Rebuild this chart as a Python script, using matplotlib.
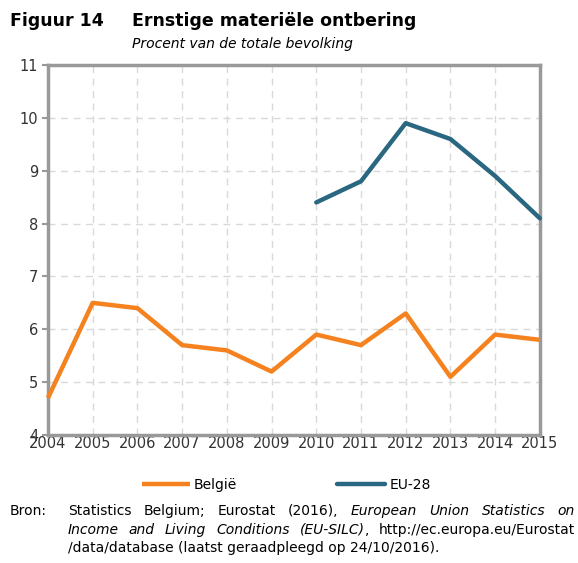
import matplotlib.pyplot as plt
import numpy as np

years = np.arange(2004, 2016)
belgie = [4.7, 6.5, 6.4, 5.7, 5.6, 5.2, 5.9, 5.7, 6.3, 5.1, 5.9, 5.8]
eu_years = np.arange(2010, 2016)
eu28 = [8.4, 8.8, 9.9, 9.6, 8.9, 8.1]

orange = "#F5821F"
blue = "#2A6780"
grey = "#999999"

plt.rcParams["font.family"] = "DejaVu Sans"

fig = plt.figure(figsize=(5.78, 5.63), dpi=100)
ax = fig.add_axes([0.083, 0.2274, 0.851, 0.6571])

ax.plot(years, belgie, color=orange, lw=3.2, solid_capstyle="butt", label="België", clip_on=False, zorder=3)
ax.plot(eu_years, eu28, color=blue, lw=3.2, solid_capstyle="round", label="EU-28", clip_on=False, zorder=3)

ax.set_xlim(2004, 2015)
ax.set_ylim(4, 11)
ax.set_xticks(years)
ax.set_yticks(np.arange(4, 12))
ax.grid(True, color="#d9d9d9", ls=(0, (5, 4)), lw=1)
for s in ax.spines.values():
    s.set_color(grey)
    s.set_linewidth(2.5)
ax.tick_params(axis="y", length=4, width=1.5, color=grey, labelsize=10.5, labelcolor="#333333", pad=3)
ax.tick_params(axis="x", length=0, labelsize=10.5, labelcolor="#333333", pad=1)

# titles
fig.text(0.017, 0.962, "Figuur 14", fontsize=12.5, fontweight="bold", va="center")
fig.text(0.228, 0.962, "Ernstige materiële ontbering", fontsize=12.5, fontweight="bold", va="center")
fig.text(0.228, 0.921, "Procent van de totale bevolking", fontsize=10, style="italic", va="center")

# legend
fig.legend(loc="center left", bbox_to_anchor=(142 / 578, 1 - 485 / 563), ncol=2, frameon=False,
           borderaxespad=0, borderpad=0, fontsize=10, handlelength=3.45,
           handletextpad=0.3, columnspacing=7.2)

# source, justified lines
fs = 10
W = fig.bbox.width
renderer = fig.canvas.get_renderer()


def justified(words, y, x0=68, x1=575, glue=()):
    objs = [fig.text(x0 / W, y, w, fontsize=fs, style=st, va="center") for w, st in words]
    widths = [o.get_window_extent(renderer).width for o in objs]
    gap = (x1 - x0 - sum(widths)) / (len(objs) - 1 - len(glue))
    x = x0
    for i, (o, w) in enumerate(zip(objs, widths)):
        o.set_x(x / W)
        x += w + (0 if i in glue else gap)


fig.text(0.017, 0.092, "Bron:", fontsize=fs, va="center")
line1 = [(w, "normal") for w in ["Statistics", "Belgium;", "Eurostat", "(2016),"]] + \
        [(w, "italic") for w in ["European", "Union", "Statistics", "on"]]
justified(line1, 0.092)
line2 = [(w, "italic") for w in ["Income", "and", "Living", "Conditions", "(EU-SILC)"]] + \
        [(",", "normal"), ("http://ec.europa.eu/Eurostat", "normal")]
justified(line2, 0.059, glue=(4,))
fig.text(68 / W, 0.026, "/data/database (laatst geraadpleegd op 24/10/2016).", fontsize=fs, va="center")

fig.savefig("out.png", dpi=100)
